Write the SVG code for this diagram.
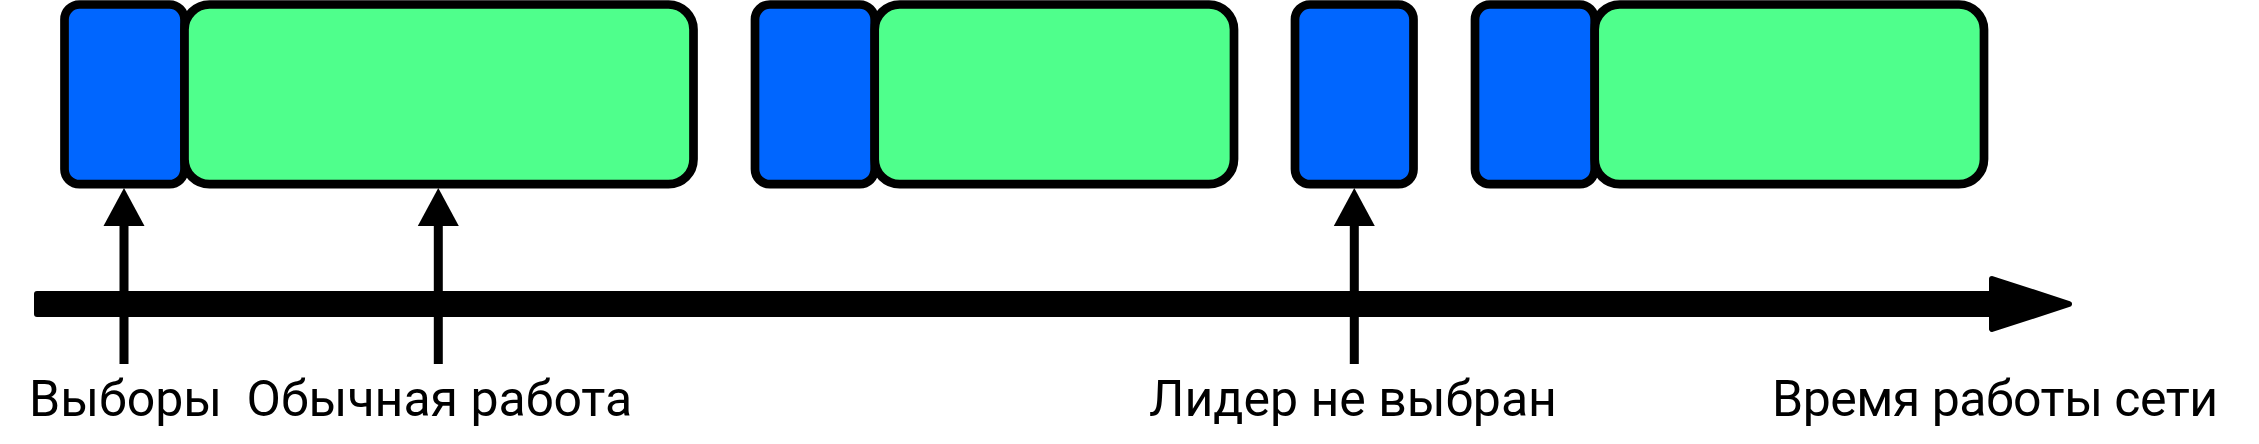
<svg xmlns="http://www.w3.org/2000/svg" width="2259" height="444" viewBox="0 0 2259 444">
<style>
.blue{fill:#0066ff;stroke:#000;stroke-width:8.7}
.green{fill:#4fff8c;stroke:#000;stroke-width:8.7}
.lbl{font-family:Roboto,"Liberation Sans",sans-serif;font-size:50px;fill:#000}
.up{stroke:#000;stroke-width:9;fill:none}
.head{fill:#000}
</style>
<g id="axis">
<rect x="34" y="291" width="1958" height="26" rx="3" fill="#000"/>
<path d="M1992,279 L2069,304 L1992,329 Z" fill="#000" stroke="#000" stroke-width="6" stroke-linejoin="round"/>
</g>
<g id="elect1"><rect class="blue" x="64.5" y="4.5" width="120" height="179.7" rx="15"/></g>
<g id="work1"><rect class="green" x="184.5" y="4.5" width="509" height="179.7" rx="25"/></g>
<g id="elect2"><rect class="blue" x="755" y="4.5" width="119.7" height="179.7" rx="15"/></g>
<g id="work2"><rect class="green" x="874.7" y="4.5" width="359.3" height="179.7" rx="25"/></g>
<g id="elect3"><rect class="blue" x="1295" y="4.5" width="118.5" height="179.7" rx="15"/></g>
<g id="elect4"><rect class="blue" x="1475" y="4.5" width="119.7" height="179.7" rx="15"/></g>
<g id="work4"><rect class="green" x="1594.7" y="4.5" width="389.3" height="179.7" rx="25"/></g>
<g id="connectors">
<line class="up" x1="124" y1="364" x2="124" y2="222"/>
<path class="head" d="M124,188 L144.5,226 L103.5,226 Z"/>
<line class="up" x1="438.3" y1="364" x2="438.3" y2="222"/>
<path class="head" d="M438.3,188 L458.8,226 L417.8,226 Z"/>
<line class="up" x1="1354.3" y1="364" x2="1354.3" y2="222"/>
<path class="head" d="M1354.3,188 L1374.8,226 L1333.8,226 Z"/>
</g>
<g id="labels">
<text class="lbl" x="29" y="416">Выборы</text>
<text class="lbl" x="246.5" y="416">Обычная работа</text>
<text class="lbl" x="1149" y="416">Лидер не выбран</text>
<text class="lbl" x="1772" y="416" letter-spacing="-0.5">Время работы сети</text>
</g>
</svg>
